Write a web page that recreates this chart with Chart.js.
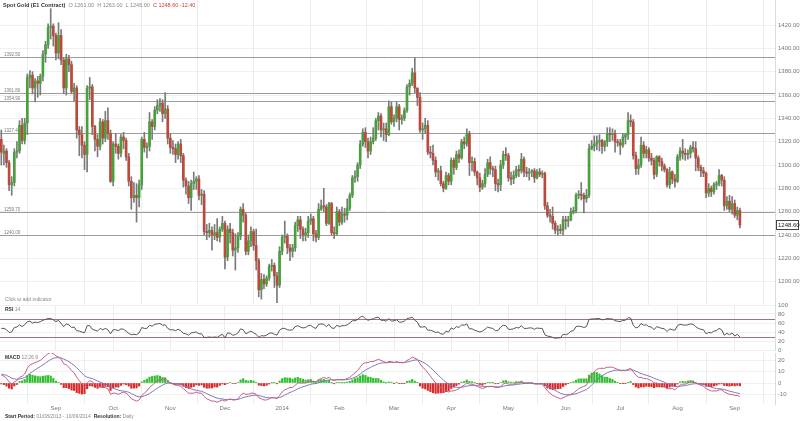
<!DOCTYPE html>
<html><head><meta charset="utf-8">
<script src="https://cdn.jsdelivr.net/npm/chart.js@4.4.1/dist/chart.umd.min.js"></script>
<style>
html,body{margin:0;padding:0;background:#fff;}
body{width:800px;height:421px;position:relative;overflow:hidden;font-family:"Liberation Sans",Arial,sans-serif;}
canvas{position:absolute;left:0;}
.t{position:absolute;white-space:nowrap;font-size:5px;line-height:6px;color:#8a8a8a;}
.b{font-weight:bold;color:#333;}
.r{color:#d03a2a;}
</style></head><body>
<canvas id="cMain" width="800" height="305" style="top:0"></canvas>
<canvas id="cRsi" width="800" height="55" style="top:300px"></canvas>
<canvas id="cMacd" width="800" height="71" style="top:350px"></canvas>
<div class="t" style="left:3px;top:2px;font-size:5.5px"><span class="b">Spot Gold (E1 Contract)</span>&nbsp; O 1261.00 &nbsp;H 1263.00 &nbsp;L 1246.00 &nbsp;<span class="r">C 1248.60 -12.40</span></div>
<div class="t" style="left:5px;top:296px">Click to add indicator</div>
<div class="t" style="left:5px;top:306px"><span class="b">RSI</span> 14</div>
<div class="t" style="left:5px;top:354px"><span class="b">MACD</span> 12 26 9</div>
<div class="t" style="left:5px;top:413px"><span class="b">Start Period:</span> 01/08/2013 - 10/09/2014 &nbsp;<span class="b">Resolution:</span> Daily</div>
<script>
// ---------- DATA (daily, Aug 2013 - Sep 2014) ----------
const open = [
1322,1310,1312,1302,1283,1285,1311,1312,1334,1321,1336,1375,1377,1366,1372,1370,1376,1395,1403,1418,1419,1411,
1396,1411,1390,1366,1391,1386,1363,1366,1330,1326,1317,1309,1366,1367,1333,1322,1316,1337,1323,1338,
1327,1286,1318,1316,1310,1324,1321,1307,1286,1272,1274,1272,1283,1322,1315,1316,1337,1333,1347,1351,1353,1344,1348,
1323,1315,1314,1309,1318,1308,1287,1282,1272,1284,1286,1288,1274,1275,1243,1242,1244,1240,1242,1238,1245,
1250,1221,1245,1242,1227,1229,1239,1262,1257,1226,1235,1243,1231,1218,1193,1202,1198,1203,1213,1214,1205,
1197,1226,1238,1239,1229,1226,1229,1248,1253,1245,1240,1242,1252,1254,1241,1238,1262,1265,1264,1250,1267,1242,
1241,1260,1251,1258,1257,1263,1274,1289,1290,1300,1318,1328,1320,1312,1320,1323,1338,1342,1330,1331,
1326,1350,1337,1340,1350,1339,1340,1347,1367,1370,1379,1366,1358,1330,1331,1334,1311,1310,1304,1294,1295,
1284,1280,1291,1286,1304,1298,1309,1306,1320,1318,1327,1302,1303,1294,1289,1281,1284,1292,1302,1297,1296,
1284,1283,1300,1309,1308,1289,1288,1291,1296,1295,1305,1294,1293,1294,1295,1289,1294,1292,1293,1265,1257,1256,
1250,1244,1245,1244,1253,1252,1253,1260,1261,1274,1275,1274,1271,1274,1314,1316,1318,1320,1321,1316,1320,
1327,1326,1327,1320,1319,1317,1324,1326,1338,1337,1308,1297,1300,1317,1310,1313,1306,1304,1292,1307,1303,1299,1296,
1283,1294,1288,1286,1307,1312,1310,1309,1310,1315,1314,1306,1298,1295,1293,1276,1280,1277,1283,1284,1291,
1287,1265,1269,1262,1267,1257,1261];
const high = [
1330,1317,1314,1304,1290,1314,1320,1338,1340,1340,1378,1381,1380,1374,1376,1378,1398,1406,1421,1434,1421,1413,
1422,1416,1392,1395,1394,1389,1370,1368,1333,1333,1320,1368,1375,1369,1334,1326,1340,1339,1346,1349,
1330,1320,1327,1318,1326,1328,1323,1310,1290,1285,1284,1287,1324,1328,1319,1345,1339,1350,1356,1357,1356,1362,1351,
1327,1321,1318,1320,1322,1310,1289,1286,1287,1294,1290,1291,1279,1278,1249,1250,1247,1249,1254,1247,1256,
1252,1248,1250,1245,1241,1242,1264,1267,1259,1240,1247,1245,1245,1220,1207,1206,1205,1215,1219,1216,1208,
1230,1240,1252,1241,1232,1232,1251,1256,1256,1247,1246,1256,1258,1256,1244,1267,1270,1280,1266,1268,1268,1247,
1264,1262,1264,1263,1271,1276,1291,1295,1302,1321,1331,1332,1323,1324,1332,1340,1345,1344,1336,1336,
1355,1354,1343,1354,1352,1343,1349,1369,1373,1383,1392,1366,1362,1336,1340,1338,1316,1317,1307,1297,1299,
1286,1294,1293,1306,1306,1312,1313,1322,1324,1331,1329,1307,1306,1295,1293,1287,1297,1305,1307,1299,1299,
1288,1304,1312,1315,1310,1294,1295,1299,1300,1310,1307,1298,1297,1296,1297,1296,1297,1295,1294,1268,1262,1264,
1252,1248,1249,1256,1256,1256,1263,1264,1276,1278,1285,1276,1279,1318,1321,1325,1325,1326,1322,1321,1332,
1332,1331,1330,1322,1322,1327,1327,1345,1343,1339,1311,1305,1324,1320,1316,1315,1310,1306,1308,1308,1306,1301,1297,
1298,1295,1292,1309,1315,1322,1314,1313,1317,1320,1320,1308,1300,1298,1294,1284,1282,1285,1286,1296,1292,
1290,1273,1274,1273,1270,1264,1263];
const low = [
1300,1300,1298,1278,1274,1282,1306,1310,1318,1318,1326,1366,1361,1354,1358,1360,1372,1388,1400,1408,1402,1390,
1391,1386,1361,1360,1380,1361,1355,1323,1308,1306,1296,1294,1356,1326,1312,1307,1313,1318,1320,1322,
1285,1282,1310,1305,1307,1314,1304,1282,1262,1268,1251,1264,1279,1311,1306,1312,1322,1330,1344,1346,1337,1340,1318,
1310,1309,1302,1305,1302,1281,1275,1267,1261,1279,1279,1270,1266,1240,1236,1238,1227,1236,1235,1234,1243,
1211,1218,1233,1222,1210,1225,1236,1251,1223,1223,1230,1227,1210,1187,1185,1194,1196,1201,1209,1195,1182,
1195,1223,1233,1224,1218,1221,1226,1243,1237,1235,1235,1238,1249,1235,1234,1236,1261,1260,1248,1249,1240,1237,
1240,1248,1249,1251,1253,1261,1272,1285,1286,1297,1316,1315,1306,1309,1318,1321,1330,1324,1321,1320,
1325,1335,1333,1337,1330,1335,1338,1345,1360,1368,1362,1351,1328,1322,1327,1309,1306,1300,1290,1287,1282,
1277,1279,1283,1283,1292,1296,1302,1305,1314,1316,1291,1295,1291,1283,1277,1279,1281,1290,1292,1290,1278,
1277,1278,1297,1304,1286,1283,1284,1289,1290,1293,1290,1290,1287,1290,1285,1288,1290,1289,1262,1255,1251,1245,
1241,1240,1241,1240,1245,1247,1252,1258,1259,1271,1270,1259,1268,1272,1313,1312,1313,1312,1310,1312,1316,
1320,1321,1311,1316,1309,1315,1318,1322,1333,1305,1292,1292,1298,1306,1306,1303,1300,1288,1290,1299,1295,1294,1281,
1280,1284,1281,1285,1304,1305,1304,1305,1306,1311,1295,1295,1290,1290,1272,1273,1273,1275,1279,1282,1282,
1261,1262,1260,1258,1255,1253,1246];
const close = [
1311,1312,1302,1283,1285,1311,1312,1334,1321,1336,1375,1377,1366,1372,1370,1376,1395,1403,1418,1419,1411,1396,
1411,1390,1366,1391,1386,1363,1366,1330,1326,1317,1309,1366,1367,1333,1322,1316,1337,1323,1338,1327,
1286,1318,1316,1310,1324,1321,1307,1286,1272,1274,1272,1283,1322,1315,1316,1337,1333,1347,1351,1353,1344,1348,1323,
1315,1314,1309,1318,1308,1287,1282,1272,1284,1286,1288,1274,1275,1243,1242,1244,1240,1242,1238,1245,1250,
1221,1245,1242,1227,1229,1239,1262,1257,1226,1235,1243,1231,1218,1193,1202,1198,1203,1213,1214,1205,1197,
1226,1238,1239,1229,1226,1229,1248,1253,1245,1240,1242,1252,1254,1241,1238,1262,1265,1264,1250,1267,1242,1241,
1260,1251,1258,1257,1263,1274,1289,1290,1300,1318,1328,1320,1312,1320,1323,1338,1342,1330,1331,1326,
1350,1337,1340,1350,1339,1340,1347,1367,1370,1379,1366,1358,1330,1331,1334,1311,1310,1304,1294,1295,1284,
1280,1291,1286,1304,1298,1309,1306,1320,1318,1327,1302,1303,1294,1289,1281,1284,1292,1302,1297,1296,1284,
1283,1300,1309,1308,1289,1288,1291,1296,1295,1305,1294,1293,1294,1295,1289,1294,1292,1293,1265,1257,1256,1250,
1244,1245,1244,1253,1252,1253,1260,1261,1274,1275,1274,1271,1274,1314,1316,1318,1320,1321,1316,1320,1327,
1326,1327,1320,1319,1317,1324,1326,1338,1337,1308,1297,1300,1317,1310,1313,1306,1304,1292,1307,1303,1299,1296,1283,
1294,1288,1286,1307,1312,1310,1309,1310,1315,1314,1306,1298,1295,1293,1276,1280,1277,1283,1284,1291,1287,
1265,1269,1262,1267,1257,1261,1248.6];
const rsi = [
48,48,45,39,40,50,51,56,52,56,63,64,60,62,61,63,66,68,70,70,67,63,
66,59,52,58,56,50,51,43,42,40,38,54,54,46,44,42,48,45,48,45,
36,45,45,43,47,46,42,37,34,35,34,38,50,48,48,55,53,57,58,59,55,56,48,
45,45,43,46,43,37,36,33,38,39,40,36,36,28,28,29,28,29,28,32,35,
27,38,37,33,34,38,47,45,36,39,42,38,35,28,32,31,33,37,38,35,33,
44,48,48,45,44,45,52,54,51,49,50,54,55,50,48,57,58,57,52,57,49,48,
55,52,54,54,56,60,65,65,68,73,75,70,66,68,69,72,73,66,66,64,
70,64,65,67,62,62,64,70,71,73,66,62,51,51,52,44,44,42,39,40,36,
35,42,40,49,46,52,50,56,55,58,47,47,44,42,40,42,46,51,49,48,43,
43,51,55,54,46,46,47,50,49,54,48,48,49,49,46,49,48,48,34,31,30,28,
26,27,27,35,34,36,42,43,52,53,52,50,52,68,69,69,70,70,67,68,70,
69,69,65,64,63,66,66,72,71,55,49,51,59,55,56,52,51,45,52,50,48,47,41,
47,45,44,54,57,56,55,56,58,57,52,48,46,45,36,39,38,42,43,48,45,
33,37,34,38,31,35,29];
const macd = [
7,6,4,1,-1,1,2,5,6,8,13,16,17,18,19,20,22,24,26,27,26,24,
23,21,17,16,14,11,9,5,2,-1,-3,0,2,1,-1,-3,-3,-4,-4,-5,
-10,-9,-9,-10,-9,-8,-9,-11,-14,-15,-16,-15,-11,-9,-7,-4,-2,0,2,3,3,4,2,
0,-1,-2,-2,-3,-5,-7,-9,-9,-9,-8,-9,-9,-12,-14,-15,-16,-16,-17,-16,-15,
-16,-15,-14,-15,-15,-14,-11,-9,-10,-10,-9,-9,-10,-13,-14,-15,-15,-14,-13,-13,-14,
-11,-8,-6,-5,-4,-4,-2,0,0,0,0,1,2,1,1,3,4,5,4,5,3,2,
3,3,3,3,4,5,7,9,11,14,17,18,18,19,19,20,21,20,19,18,
19,19,18,19,18,18,18,20,21,23,22,21,17,14,12,9,6,3,0,-2,-4,
-6,-7,-8,-7,-7,-6,-5,-3,-2,0,-1,-1,-2,-3,-4,-5,-4,-3,-3,-3,-4,
-4,-3,-1,0,-1,-1,-1,0,0,1,0,0,0,0,-1,-1,-1,-1,-4,-7,-9,-11,
-12,-13,-14,-13,-12,-11,-10,-9,-7,-5,-4,-3,-2,3,7,10,12,13,13,13,14,
14,14,13,12,11,11,11,12,13,10,7,5,5,4,4,3,2,0,0,-1,-2,-3,-5,
-5,-5,-6,-4,-2,-1,-1,0,1,1,0,-1,-2,-3,-5,-6,-7,-7,-7,-6,-6,
-8,-9,-10,-10,-11,-11,-12];
const signal = [
7.8,7.4,6.8,5.6,4.3,3.6,3.3,3.6,4.1,4.9,6.5,8.4,10.1,11.7,13.2,14.5,16.0,17.6,19.3,20.8,21.9,22.3,
22.4,22.2,21.1,20.1,18.9,17.3,15.6,13.5,11.2,8.8,6.4,5.1,4.5,3.8,2.9,1.7,0.7,-0.2,-1.0,-1.8,
-3.4,-4.5,-5.4,-6.3,-6.9,-7.1,-7.5,-8.2,-9.3,-10.5,-11.6,-12.3,-12.0,-11.4,-10.5,-9.2,-7.8,-6.2,-4.6,-3.1,-1.9,-0.7,-0.1,
-0.1,-0.3,-0.6,-0.9,-1.3,-2.1,-3.1,-4.2,-5.2,-6.0,-6.4,-6.9,-7.3,-8.3,-9.4,-10.5,-11.6,-12.5,-13.4,-13.9,-14.1,
-14.5,-14.6,-14.5,-14.6,-14.7,-14.5,-13.8,-12.9,-12.3,-11.8,-11.3,-10.8,-10.7,-11.1,-11.7,-12.4,-12.9,-13.1,-13.1,-13.1,-13.3,
-12.8,-11.9,-10.7,-9.5,-8.4,-7.5,-6.4,-5.1,-4.1,-3.3,-2.6,-1.9,-1.1,-0.7,-0.4,0.3,1.1,1.8,2.3,2.8,2.9,2.7,
2.8,2.8,2.8,2.9,3.1,3.5,4.2,5.1,6.3,7.9,9.7,11.3,12.7,13.9,15.0,16.0,17.0,17.6,17.9,17.9,
18.1,18.3,18.2,18.4,18.3,18.2,18.2,18.6,19.0,19.8,20.3,20.4,19.7,18.6,17.3,15.6,13.7,11.6,9.2,7.0,4.8,
2.6,0.7,-1.0,-2.2,-3.2,-3.7,-4.0,-3.8,-3.4,-2.7,-2.4,-2.1,-2.1,-2.3,-2.6,-3.1,-3.3,-3.2,-3.2,-3.1,-3.3,
-3.5,-3.4,-2.9,-2.3,-2.1,-1.8,-1.7,-1.3,-1.1,-0.7,-0.5,-0.4,-0.3,-0.3,-0.4,-0.5,-0.6,-0.7,-1.4,-2.5,-3.8,-5.2,
-6.6,-7.9,-9.1,-9.9,-10.3,-10.4,-10.4,-10.1,-9.5,-8.6,-7.7,-6.7,-5.8,-4.0,-1.8,0.5,2.8,4.9,6.5,7.8,9.0,
10.0,10.8,11.3,11.4,11.3,11.3,11.2,11.4,11.7,11.4,10.5,9.4,8.5,7.6,6.9,6.1,5.3,4.2,3.4,2.5,1.6,0.7,-0.5,
-1.4,-2.1,-2.9,-3.1,-2.9,-2.5,-2.2,-1.8,-1.2,-0.8,-0.6,-0.7,-1.0,-1.4,-2.1,-2.9,-3.7,-4.4,-4.9,-5.1,-5.3,
-5.8,-6.5,-7.2,-7.7,-8.4,-8.9,-9.5];
const histogram = [
-0.8,-1.4,-2.8,-4.6,-5.3,-2.6,-1.3,1.4,1.9,3.1,6.5,7.6,6.9,6.3,5.8,5.5,6.0,6.4,6.7,6.2,4.1,1.7,
0.6,-1.2,-4.1,-4.1,-4.9,-6.3,-6.6,-8.5,-9.2,-9.8,-9.4,-5.1,-2.5,-2.8,-3.9,-4.7,-3.7,-3.8,-3.0,-3.2,
-6.6,-4.5,-3.6,-3.7,-2.1,-0.9,-1.5,-2.8,-4.7,-4.5,-4.4,-2.7,1.0,2.4,3.5,5.2,5.8,6.2,6.6,6.1,4.9,4.7,2.1,
0.1,-0.7,-1.4,-1.1,-1.7,-2.9,-4.0,-4.8,-3.8,-3.1,-1.6,-2.1,-1.7,-3.8,-4.6,-4.5,-4.4,-3.5,-3.6,-2.1,-0.9,
-1.5,-0.4,0.5,-0.4,-0.3,0.5,2.8,3.9,2.3,1.8,2.3,1.8,0.7,-1.9,-2.3,-2.6,-2.1,-0.9,0.1,0.1,-0.7,
1.8,3.9,4.7,4.5,4.4,3.5,4.4,5.1,4.1,3.3,2.6,2.9,3.1,1.7,1.4,2.7,3.0,3.2,1.7,2.2,0.1,-0.7,
0.3,0.2,0.2,0.1,0.9,1.5,2.8,3.9,4.7,6.2,7.3,6.7,5.3,5.1,4.1,4.0,4.0,2.4,1.1,0.1,
0.9,0.7,-0.2,0.6,-0.3,-0.2,-0.2,1.5,2.0,3.2,1.7,0.6,-2.7,-4.6,-5.3,-6.6,-7.7,-8.6,-9.2,-9.0,-8.8,
-8.6,-7.7,-7.0,-4.8,-3.8,-2.3,-1.0,0.8,1.4,2.7,1.4,1.1,0.1,-0.7,-1.4,-1.9,-0.7,0.2,0.2,0.1,-0.7,
-0.6,0.4,1.9,2.3,1.1,0.8,0.7,1.3,1.1,1.7,0.5,0.4,0.3,0.3,-0.6,-0.5,-0.4,-0.3,-2.6,-4.5,-5.2,-5.8,
-5.4,-5.1,-4.9,-3.1,-1.7,-0.6,0.4,1.1,2.5,3.6,3.7,3.7,3.8,7.0,8.8,9.5,9.2,8.1,6.5,5.2,5.0,
4.0,3.2,1.7,0.6,-0.3,-0.3,-0.2,0.6,1.3,-1.4,-3.5,-4.4,-3.5,-3.6,-2.9,-3.1,-3.3,-4.2,-3.4,-3.5,-3.6,-3.7,-4.5,
-3.6,-2.9,-3.1,-0.9,0.9,1.5,1.2,1.8,2.2,1.8,0.6,-0.3,-1.0,-1.6,-2.9,-3.1,-3.3,-2.6,-2.1,-0.9,-0.7,
-2.2,-2.5,-2.8,-2.3,-2.6,-2.1,-2.5];
const monthLabels = ['Sep','Oct','Nov','Dec','2014','Feb','Mar','Apr','May','Jun','Jul','Aug','Sep'];
const monthIdx = [21,43,65,86,108,130,151,173,195,217,238,260,282];
const priceTicks = [1200,1220,1240,1260,1280,1300,1320,1340,1360,1380,1400,1420];
const levels = [1392.5,1361.8,1354.9,1327.4,1259.7,1240.0];
const rsiTicks = [0,20,40,60,80,100];
const rsiBands = [30,70];
const macdTicks = [-10,0,10,20];

// ---------- CHARTS ----------
Chart.defaults.font.family = "'Liberation Sans', Arial, sans-serif";
Chart.defaults.animation = false;
const SLOTS = 298;
const GREEN = '#47a03c', RED = '#bb4a3c';
const ids = close.map((_, i) => i);

function xAxis(show) {
  return {
    type: 'linear', min: -0.5, max: SLOTS - 0.5, bounds: 'data', offset: false,
    afterBuildTicks: s => { s.ticks = monthIdx.map(v => ({ value: v })); },
    grid: { color: '#ececec', drawTicks: false },
    border: { display: false },
    ticks: { display: show, autoSkip: false, maxRotation: 0, font: { size: 6 }, color: '#777', padding: 1,
      callback: (v, i) => monthLabels[i] },
    afterFit: s => { s.height = show ? 14 : 0; s.paddingLeft = 0; s.paddingRight = 0; }
  };
}
function yAxis(min, max, ticks, fmt) {
  return {
    position: 'right', min: min, max: max, bounds: 'data',
    afterBuildTicks: s => { s.ticks = ticks.map(v => ({ value: v })); },
    grid: { color: '#f0f0f0', drawTicks: false },
    border: { color: '#dadada' },
    ticks: { font: { size: 6 }, color: '#777', padding: 3, autoSkip: false, callback: fmt },
    afterFit: s => { s.width = 25; s.paddingTop = 0; s.paddingBottom = 0; }
  };
}
const common = {
  responsive: false, devicePixelRatio: 1, animation: false,
  plugins: { legend: { display: false }, tooltip: { enabled: false } }
};

const levelsPlugin = {
  id: 'levels',
  beforeDatasetsDraw(chart) {
    const { ctx, chartArea: a, scales: { y } } = chart;
    ctx.save();
    ctx.strokeStyle = '#9c9c9c'; ctx.lineWidth = 1;
    ctx.fillStyle = '#7a7a7a'; ctx.font = "4.5px 'Liberation Sans', Arial";
    levels.forEach(v => {
      const py = Math.round(y.getPixelForValue(v)) + 0.5;
      ctx.beginPath(); ctx.moveTo(a.left, py); ctx.lineTo(a.right, py); ctx.stroke();
      ctx.fillText(v.toFixed(2), a.left + 4, py - 2);
    });
    ctx.restore();
  },
  afterDraw(chart) {
    const { ctx, chartArea: a, scales: { y } } = chart;
    const last = close[close.length - 1];
    const py = Math.round(y.getPixelForValue(last));
    ctx.save();
    ctx.fillStyle = '#fff'; ctx.fillRect(a.right + 1, py - 5, 23, 10);
    ctx.strokeStyle = '#444'; ctx.lineWidth = 1; ctx.strokeRect(a.right + 1.5, py - 4.5, 22, 9);
    ctx.fillStyle = '#222'; ctx.font = "6px 'Liberation Sans', Arial"; ctx.textBaseline = 'middle';
    ctx.fillText(last.toFixed(2), a.right + 3, py + 0.5);
    ctx.restore();
  }
};

new Chart(document.getElementById('cMain'), {
  type: 'bar',
  data: { datasets: [
    { data: ids.map(i => ({ x: i, y: [low[i], high[i]] })), backgroundColor: '#7a7a7a',
      barThickness: 1, grouped: false, order: 2 },
    { data: ids.map(i => ({ x: i, y: [open[i], close[i]] })),
      backgroundColor: ids.map(i => close[i] >= open[i] ? GREEN : RED),
      barThickness: 2, minBarLength: 1, grouped: false, order: 1 }
  ] },
  options: Object.assign({}, common, {
    layout: { padding: 0 },
    scales: { x: xAxis(false), y: yAxis(1180, 1441.43, priceTicks, v => v.toFixed(2)) }
  }),
  plugins: [levelsPlugin]
});

const rsiPlugin = {
  id: 'rsiBands',
  beforeDatasetsDraw(chart) {
    const { ctx, chartArea: a, scales: { y } } = chart;
    ctx.save(); ctx.strokeStyle = '#9a7482'; ctx.lineWidth = 1;
    rsiBands.forEach(v => {
      const py = Math.round(y.getPixelForValue(v)) + 0.5;
      ctx.beginPath(); ctx.moveTo(a.left, py); ctx.lineTo(a.right, py); ctx.stroke();
    });
    ctx.restore();
  }
};
new Chart(document.getElementById('cRsi'), {
  type: 'line',
  data: { datasets: [
    { data: ids.map(i => ({ x: i, y: rsi[i] })), borderColor: '#555', borderWidth: 1, pointRadius: 0, tension: 0 }
  ] },
  options: Object.assign({}, common, {
    layout: { padding: { top: 5, bottom: 5 } },
    scales: { x: xAxis(false), y: yAxis(0, 100, rsiTicks, v => String(v)) }
  }),
  plugins: [rsiPlugin]
});

new Chart(document.getElementById('cMacd'), {
  type: 'bar',
  data: { datasets: [
    { type: 'line', data: ids.map(i => ({ x: i, y: macd[i] })), borderColor: '#c4607e', borderWidth: 1, pointRadius: 0, order: 1 },
    { type: 'line', data: ids.map(i => ({ x: i, y: signal[i] })), borderColor: '#7a78c0', borderWidth: 1, pointRadius: 0, order: 1 },
    { type: 'bar', data: ids.map(i => ({ x: i, y: histogram[i] })),
      backgroundColor: ids.map(i => histogram[i] >= 0 ? '#2fbf2f' : '#d82a2a'),
      barThickness: 1.5, grouped: false, order: 2 }
  ] },
  options: Object.assign({}, common, {
    layout: { padding: { top: 3, bottom: 3 } },
    scales: { x: xAxis(true), y: yAxis(-18.58, 26.55, macdTicks, v => String(v)) }
  })
});
</script>
</body></html>
